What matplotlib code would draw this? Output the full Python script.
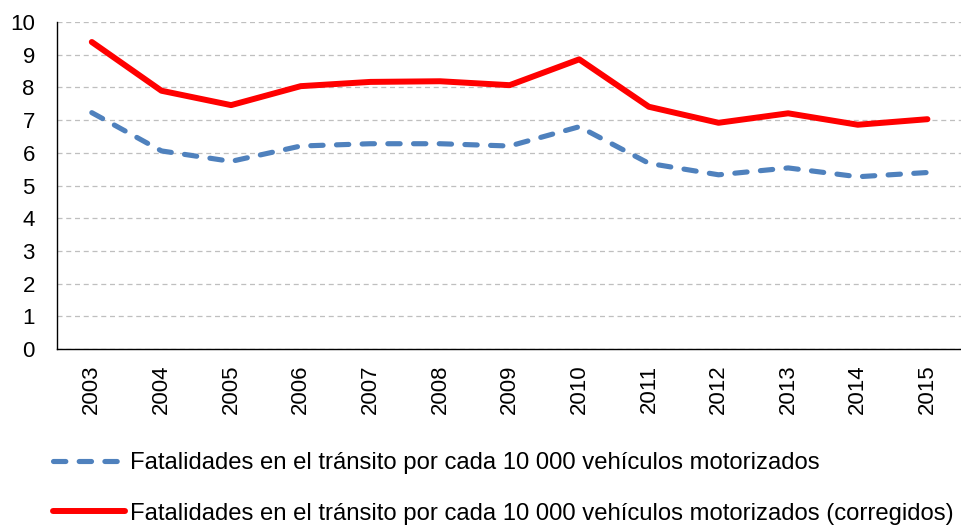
import matplotlib
matplotlib.use('Agg')
import matplotlib.pyplot as plt

plt.rcParams['font.family'] = ['Liberation Sans', 'DejaVu Sans']

# Datos
years = ['2003', '2004', '2005', '2006', '2007', '2008', '2009',
         '2010', '2011', '2012', '2013', '2014', '2015']
fatalidades = [7.23, 6.06, 5.74, 6.21, 6.28, 6.28, 6.21, 6.80, 5.68, 5.33, 5.54, 5.27, 5.40]
fatalidades_corr = [9.39, 7.90, 7.46, 8.04, 8.17, 8.19, 8.07, 8.86, 7.41, 6.92, 7.21, 6.86, 7.03]
yticks = list(range(0, 11))

label_1 = 'Fatalidades en el tránsito por cada 10 000 vehículos motorizados'
label_2 = 'Fatalidades en el tránsito por cada 10 000 vehículos motorizados (corregidos)'

fig = plt.figure(figsize=(9.61, 5.25), dpi=100)
ax = fig.add_axes([0.0593, 0.335, 0.942, 0.623])

x = range(len(years))
ax.plot(x, fatalidades, color='#4F81BD', lw=3.7, dashes=(2.4, 2.6),
        dash_capstyle='round', solid_capstyle='round', label=label_1)
ax.plot(x, fatalidades_corr, color='#FF0000', lw=4.3,
        solid_capstyle='round', label=label_2)

ax.set_xlim(-0.5, len(years) - 0.5)
ax.set_ylim(0, 10)
ax.set_yticks(yticks)
ax.set_xticks(list(x))
ax.set_xticklabels(years, rotation=90)
ax.tick_params(axis='y', length=0, pad=16, labelsize=16)
ax.tick_params(axis='x', length=0, pad=11, labelsize=16)

ax.grid(axis='y', color='#BFBFBF', lw=0.9, linestyle=(0, (4, 3)))
ax.set_axisbelow(True)
for s in ['top', 'right']:
    ax.spines[s].set_visible(False)
for s in ['left', 'bottom']:
    ax.spines[s].set_color('black')
    ax.spines[s].set_linewidth(1.0)

fig.legend(loc='upper left', bbox_to_anchor=(0.055, 0.139), frameon=False,
           fontsize=17.2, handlelength=3.0, handletextpad=0.25, labelspacing=1.2,
           borderpad=0, borderaxespad=0)

fig.savefig('out.png', dpi=100)
